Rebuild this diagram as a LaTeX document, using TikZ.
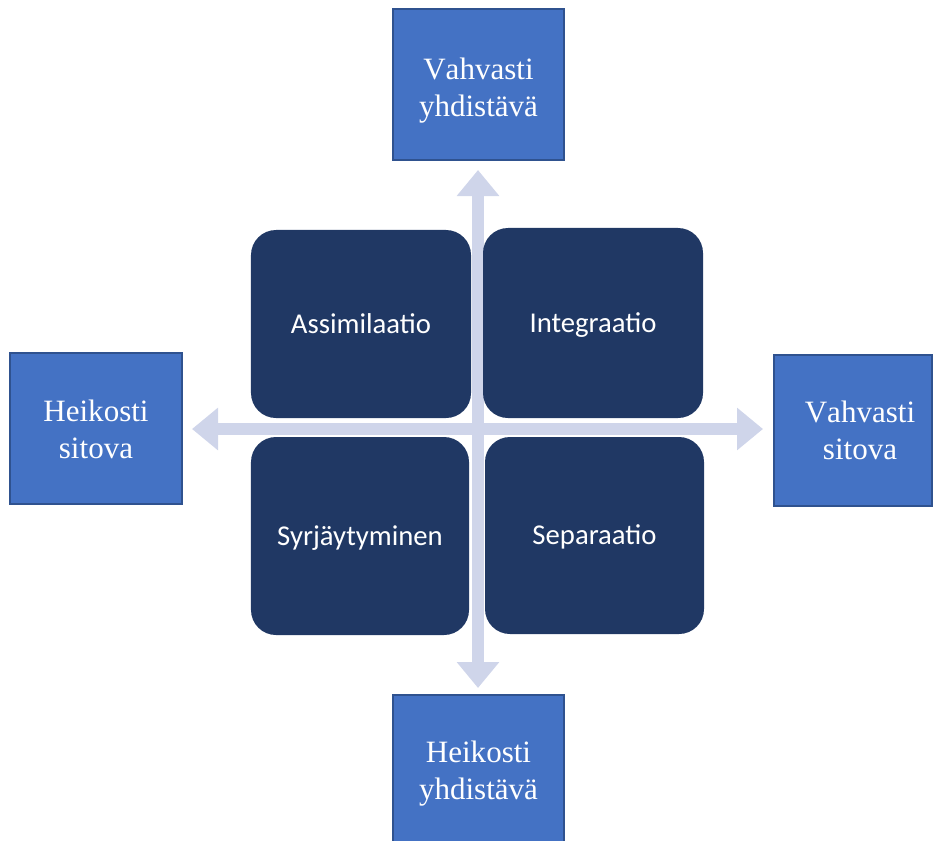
\documentclass[tikz,border=0pt]{standalone}
\usepackage{fontspec}
\setmainfont{Liberation Serif}[Kerning=Off]
\newfontfamily\carlito{Carlito}
\usetikzlibrary{arrows.meta}
\definecolor{outerfill}{HTML}{4472C4}
\definecolor{outerline}{HTML}{2F528F}
\definecolor{innerfill}{HTML}{203864}
\definecolor{arrowcol}{HTML}{CFD5EA}
\begin{document}
\begin{tikzpicture}[x=0.03cm,y=-0.03cm,
  outerbox/.style={draw=outerline, line width=1.7pt, fill=outerfill, inner sep=0pt, outer sep=0pt, minimum height=4.53cm},
  outertext/.style={text=white, align=center, inner sep=0pt, outer sep=0pt, font=\fontsize{26.5}{31.6}\selectfont},
  innerbox/.style={fill=innerfill, rounded corners=0.75cm, text=white, inner sep=0pt, outer sep=0pt,
    text height=19pt, text depth=3.5pt, font=\carlito\fontsize{24.5}{29}\selectfont},
  axisarrow/.style={draw=arrowcol, line width=0.36cm, line cap=butt,
    {Triangle[width=1.23cm,length=0.78cm]}-{Triangle[width=1.23cm,length=0.78cm]}}]
\useasboundingbox (0,0) rectangle (933,840);
% axes
\coordinate (vtop) at (478,170);
\coordinate (vbot) at (478,688);
\coordinate (hleft) at (192,429);
\coordinate (hright) at (763,429);
\draw[axisarrow] (vtop) -- (vbot);
\draw[axisarrow] (hleft) -- (hright);
% inner quadrants
\node[innerbox, minimum width=6.6cm, minimum height=5.64cm] (assim) at (361,324) {Assimilaatio};
\node[innerbox, minimum width=6.6cm, minimum height=5.7cm] (integ) at (593,323) {Integraatio};
\node[innerbox, minimum width=6.54cm, minimum height=5.94cm] (syrj) at (360,536) {Syrjäytyminen};
\node[innerbox, minimum width=6.57cm, minimum height=5.91cm] (separ) at (594.5,535.5) {Separaatio};
% outer boxes
\node[outerbox, minimum width=5.13cm] (topbox) at (478.5,84.5) {};
\node[outertext] (toptext) at (478.5,91) {\strut Vahvasti\\yhdistävä\strut};
\node[outerbox, minimum width=5.16cm] (leftbox) at (96,428.5) {};
\node[outertext] (lefttext) at (96,433) {\strut Heikosti\\sitova\strut};
\node[outerbox, minimum width=4.74cm] (rightbox) at (853,430.5) {};
\node[outertext] (righttext) at (860,434) {\strut Vahvasti\\sitova\strut};
\node[outerbox, minimum width=5.13cm] (botbox) at (478.5,770.5) {};
\node[outertext] (bottext) at (478.5,774) {\strut Heikosti\\yhdistävä\strut};
\end{tikzpicture}
\end{document}
